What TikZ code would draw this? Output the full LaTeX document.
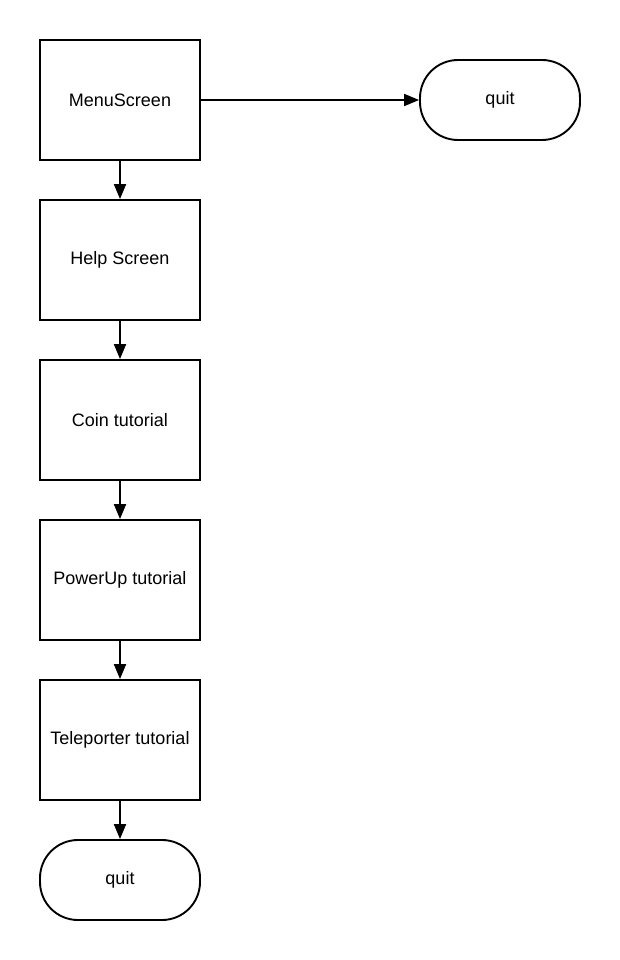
\documentclass[tikz,border=0pt]{standalone}
\usepackage{fontspec}
\setmainfont{Liberation Sans}
\usetikzlibrary{arrows.meta}
\begin{document}
\begin{tikzpicture}[x=1pt,y=-1pt,
  every node/.style={font=\fontsize{18}{21}\selectfont, line width=1.9pt, draw=black, inner sep=0pt},
  stepbox/.style={rectangle, minimum width=160pt, minimum height=120pt},
  endbox/.style={rectangle, rounded corners=38pt, minimum width=160pt, minimum height=80pt},
  flow/.style={line width=1.9pt, -{Triangle[length=15pt,width=12pt]}}]
  \useasboundingbox (0,0) rectangle (620,960);
  \node[stepbox] (menu) at (120,100) {MenuScreen};
  \node[stepbox] (help) at (120,260) {Help Screen};
  \node[stepbox] (coin) at (120,420) {Coin tutorial};
  \node[stepbox] (power) at (120,580) {PowerUp tutorial};
  \node[stepbox] (tele) at (120,740) {Teleporter tutorial};
  \node[endbox] (quitb) at (120,880) {quit};
  \node[endbox] (quitr) at (500,100) {quit};
  \draw[flow] (menu) -- (quitr);
  \draw[flow] (menu) -- (help);
  \draw[flow] (help) -- (coin);
  \draw[flow] (coin) -- (power);
  \draw[flow] (power) -- (tele);
  \draw[flow] (tele) -- (quitb);
\end{tikzpicture}
\end{document}
